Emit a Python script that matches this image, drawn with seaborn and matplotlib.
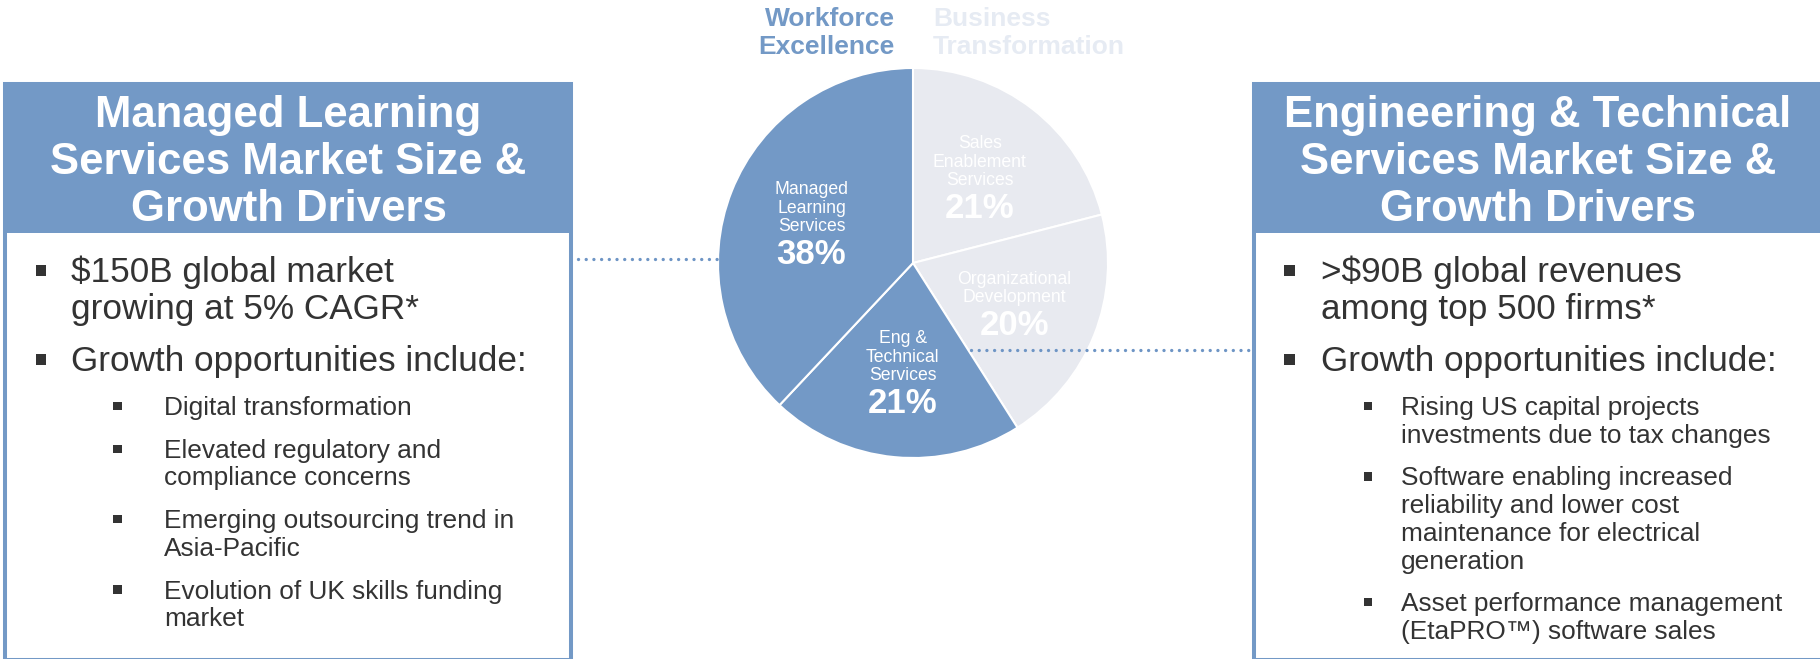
import matplotlib
matplotlib.use("Agg")
import matplotlib.pyplot as plt
from matplotlib.patches import Rectangle
import numpy as np
import seaborn as sns

# Market segments, listed clockwise from 12 o'clock
segments = ["Sales\nEnablement\nServices", "Organizational\nDevelopment",
            "Eng &\nTechnical\nServices", "Managed\nLearning\nServices"]
shares = [21, 20, 21, 38]
segment_group = ["Business Transformation", "Business Transformation",
                 "Workforce Excellence", "Workforce Excellence"]
group_headers = {"Workforce Excellence": ["Workforce", "Excellence"],
                 "Business Transformation": ["Business", "Transformation"]}

left_title = ["Managed Learning", "Services Market Size &", "Growth Drivers"]
left_points = [["$150B global market", "growing at 5% CAGR*"],
               ["Growth opportunities include:"]]
left_subpoints = [["Digital transformation"],
                  ["Elevated regulatory and", "compliance concerns"],
                  ["Emerging outsourcing trend in", "Asia-Pacific"],
                  ["Evolution of UK skills funding", "market"]]

right_title = ["Engineering & Technical", "Services Market Size &", "Growth Drivers"]
right_points = [[">$90B global revenues", "among top 500 firms*"],
                ["Growth opportunities include:"]]
right_subpoints = [["Rising US capital projects", "investments due to tax changes"],
                   ["Software enabling increased", "reliability and lower cost",
                    "maintenance for electrical", "generation"],
                   ["Asset performance management", "(EtaPRO™) software sales"]]

sns.set_theme(style="white")
plt.rcParams["font.family"] = ["Liberation Sans", "DejaVu Sans"]

BLUE = "#7399C6"
GREY = "#E8EAF0"
PALE = "#E6EBF3"
INK = "#333333"

W, H = 1820, 659
fig = plt.figure(figsize=(W / 100, H / 100), dpi=100)
fig.patch.set_facecolor("white")

# ---- pie ---------------------------------------------------------------
PCX, PCY, PR = 913, 263, 195
pax = fig.add_axes([(PCX - PR) / W, (H - PCY - PR) / H, 2 * PR / W, 2 * PR / H])
colors = [BLUE if g == "Workforce Excellence" else GREY for g in segment_group]
wedges, _ = pax.pie(shares, colors=colors, startangle=90, counterclock=False,
                    wedgeprops=dict(edgecolor="white", linewidth=1.5))
for w in wedges:
    w.set_clip_on(False)
pax.set_xlim(-1, 1)
pax.set_ylim(-1, 1)
pax.set_aspect("auto")
pax.axis("off")

px = 1.0 / PR  # one pixel in pie data units
for w, name, val in zip(wedges, segments, shares):
    th = np.deg2rad((w.theta1 + w.theta2) / 2)
    cx, cy = 0.56 * np.cos(th), 0.56 * np.sin(th)
    lines = name.split("\n")
    block = 12.7 + (len(lines) - 1) * 18.3 + 33
    base = cy + (block / 2 - 12.7) * px
    for i, ln in enumerate(lines):
        pax.text(cx, base - i * 18.3 * px, ln, ha="center", va="baseline",
                 fontsize=12.7, color="white")
    last = base - (len(lines) - 1) * 18.3 * px
    pax.text(cx, last - 33 * px, f"{val}%", ha="center", va="baseline",
             fontsize=25, fontweight="bold", color="white")

# ---- overlay in pixel coordinates ---------------------------------------
ov = fig.add_axes([0, 0, 1, 1])
ov.set_xlim(0, W)
ov.set_ylim(H, 0)
ov.axis("off")

# group headers above the pie
for i, ln in enumerate(group_headers["Workforce Excellence"]):
    ov.text(895, 26 + i * 28, ln, ha="right", va="baseline", fontsize=19,
            fontweight="bold", color=BLUE)
for i, ln in enumerate(group_headers["Business Transformation"]):
    ov.text(933, 26 + i * 28, ln, ha="left", va="baseline", fontsize=19,
            fontweight="bold", color=PALE)


def panel(x0, x1, title, title_cx, points, subpoints, bx, tx, sbx, stx):
    ov.add_patch(Rectangle((x0, 84), x1 - x0, 576, facecolor="white",
                           edgecolor=BLUE, linewidth=2.9, zorder=1))
    ov.add_patch(Rectangle((x0 - 2, 84), x1 - x0 + 4, 149, facecolor=BLUE,
                           edgecolor="none", zorder=2))
    for i, ln in enumerate(title):
        ov.text(title_cx, 127 + i * 47, ln, ha="center", va="baseline",
                fontsize=31.5, fontweight="bold", color="white", zorder=3)
    y = 282
    for item in points:
        ov.add_patch(Rectangle((bx - 5.2, y - 11.5 - 5.2), 10.4, 10.4,
                               facecolor=INK, edgecolor="none", zorder=3))
        for ln in item:
            ov.text(tx, y, ln, ha="left", va="baseline", fontsize=25.3,
                    color=INK, zorder=3)
            y += 37
        y += 15
    y = 415
    for item in subpoints:
        ov.add_patch(Rectangle((sbx - 4.2, y - 9 - 4.2), 8.4, 8.4,
                               facecolor=INK, edgecolor="none", zorder=3))
        for ln in item:
            ov.text(stx, y, ln, ha="left", va="baseline", fontsize=18.9,
                    color=INK, zorder=3)
            y += 27.7
        y += 15


panel(5, 571, left_title, 288.5, left_points, left_subpoints, 40.7, 71, 117.6, 164)
panel(1254, 1835, right_title, 1538, right_points, right_subpoints, 1289.6, 1321, 1367.8, 1401)

# dotted connectors from the panels to the pie
dots = dict(color="#6E95C5", linewidth=2.4, linestyle=(0, (0.01, 2.3)),
            dash_capstyle="round", solid_capstyle="round", zorder=5)
ov.plot([578, 717], [259.3, 259.3], **dots)
ov.plot([971, 1250], [350, 350], **dots)

fig.savefig("out.png", dpi=100, facecolor="white")
